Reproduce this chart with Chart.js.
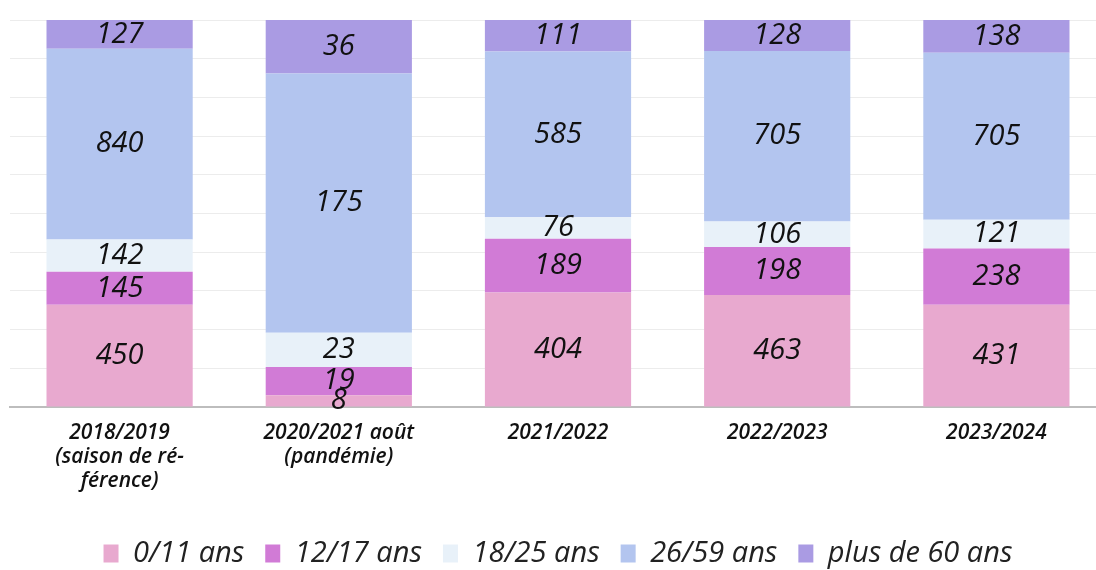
<!DOCTYPE html>
<html lang="fr">
<head>
<meta charset="UTF-8">
<title>Saisons par tranche d'âge</title>
<script src="https://cdn.jsdelivr.net/npm/chart.js@4.4.1/dist/chart.umd.min.js"></script>
<style>
  html, body { margin: 0; padding: 0; background: #fff; overflow: hidden; }
  #wrap { position: absolute; left: 0; top: 0; width: 1106px; height: 578px; }
</style>
</head>
<body>
<div id="wrap"><canvas id="chart"></canvas></div>
<script>
    const saisons = [
        ['2018/2019', '(saison de ré-', 'férence)'],
        ['2020/2021 août', '(pandémie)'],
        '2021/2022',
        '2022/2023',
        '2023/2024'
    ];
    const groupes = ['0/11 ans', '12/17 ans', '18/25 ans', '26/59 ans', 'plus de 60 ans'];
    const ans0_11 = [450, 8, 404, 463, 431];
    const ans12_17 = [145, 19, 189, 198, 238];
    const ans18_25 = [142, 23, 76, 106, 121];
    const ans26_59 = [840, 175, 585, 705, 705];
    const ans60plus = [127, 36, 111, 128, 138];
    const couleurs = ['#e8a9cf', '#d17bd6', '#e8f1f9', '#b3c5ef', '#aa9be3'];

    const series = [ans0_11, ans12_17, ans18_25, ans26_59, ans60plus];
    const totaux = saisons.map((s, i) => series.reduce((t, arr) => t + arr[i], 0));

    const datasets = series.map((arr, k) => ({
        label: groupes[k],
        raw: arr,
        data: arr.map((v, i) => v / totaux[i] * 100),
        backgroundColor: couleurs[k],
        borderWidth: 0,
        barPercentage: 0.667,
        categoryPercentage: 1
    }));

    // draw the raw numbers in the middle of each segment
    const valeurs = {
        id: 'valeurs',
        afterDatasetsDraw(chart) {
            const ctx = chart.ctx;
            ctx.save();
            ctx.font = 'italic 29px "Open Sans"';
            ctx.fillStyle = '#111';
            ctx.textAlign = 'center';
            ctx.textBaseline = 'middle';
            chart.data.datasets.forEach((ds, k) => {
                chart.getDatasetMeta(k).data.forEach((bar, i) => {
                    const mid = (bar.y + bar.base) / 2;
                    ctx.fillText(ds.raw[i], bar.x, mid);
                });
            });
            ctx.restore();
        }
    };

    new Chart(document.getElementById('chart'), {
        type: 'bar',
        data: { labels: saisons, datasets: datasets },
        options: {
            responsive: true,
            maintainAspectRatio: false,
            animation: false,
            layout: { padding: { top: 20, left: 10, right: 0, bottom: 0 } },
            scales: {
                x: {
                    stacked: true,
                    grid: { display: false },
                    border: { color: '#bdbdbd', width: 2 },
                    ticks: {
                        color: '#111',
                        font: { family: 'Open Sans', style: 'italic', weight: '600', size: 21, lineHeight: 1.14 },
                        maxRotation: 0,
                        padding: 6
                    },
                    afterFit(axis) { axis.height = 111; }
                },
                y: {
                    stacked: true,
                    min: 0,
                    max: 100,
                    ticks: { display: false, stepSize: 10 },
                    grid: { color: '#ececec', lineWidth: 1, drawTicks: false },
                    border: { display: false }
                }
            },
            plugins: {
                legend: {
                    position: 'bottom',
                    labels: {
                        color: '#222',
                        font: { family: 'Open Sans', style: 'italic', size: 29 },
                        boxWidth: 15,
                        boxHeight: 18,
                        padding: 21
                    }
                },
                tooltip: { enabled: false }
            }
        },
        plugins: [valeurs]
    });
</script>
</body>
</html>
